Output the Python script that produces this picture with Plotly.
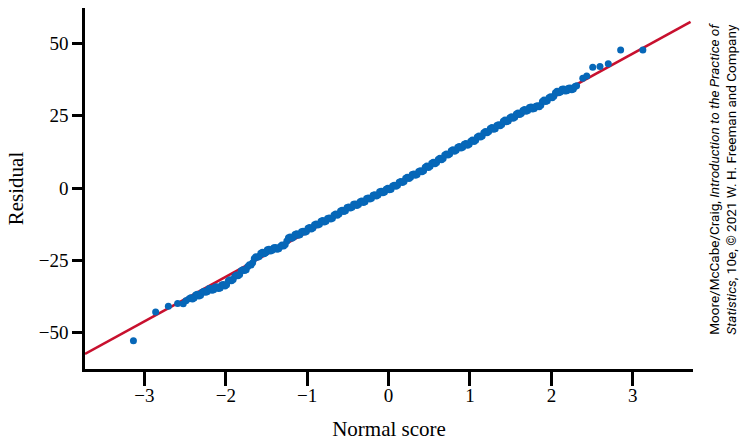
import plotly.graph_objects as go

# Normal scores (x) and residuals (y)
normal_score = [
    -3.135, -2.862, -2.706, -2.592, -2.523, -2.49,
    -2.45, -2.41, -2.37, -2.33, -2.29, -2.25, -2.21, -2.17, -2.13, -2.09,
    -2.05, -2.01, -1.97, -1.93, -1.89, -1.85, -1.81, -1.77, -1.73, -1.69,
    -1.65, -1.61, -1.57, -1.53, -1.49, -1.45, -1.41, -1.37, -1.33, -1.29,
    -1.25, -1.21, -1.17, -1.13, -1.09, -1.05, -1.01, -0.97, -0.93, -0.89,
    -0.85, -0.81, -0.77, -0.73, -0.69, -0.65, -0.61, -0.57, -0.53, -0.49,
    -0.45, -0.41, -0.37, -0.33, -0.29, -0.25, -0.21, -0.17, -0.13, -0.09,
    -0.05, -0.01, 0.03, 0.07, 0.11, 0.15, 0.19, 0.23, 0.27, 0.31,
    0.35, 0.39, 0.43, 0.47, 0.51, 0.55, 0.59, 0.63, 0.67, 0.71,
    0.75, 0.79, 0.83, 0.87, 0.91, 0.95, 0.99, 1.03, 1.07, 1.11,
    1.15, 1.19, 1.23, 1.27, 1.31, 1.35, 1.39, 1.43, 1.47, 1.51,
    1.55, 1.59, 1.63, 1.67, 1.71, 1.75, 1.79, 1.83, 1.87, 1.91,
    1.95, 1.99, 2.03, 2.07, 2.11, 2.15, 2.19, 2.23, 2.27, 2.31,
    2.386, 2.434, 2.508, 2.597, 2.699, 2.851, 3.124,
    # denser points inside the central band
    -2.43, -2.39, -2.35, -2.31, -2.27, -2.23, -2.19, -2.15, -2.11, -2.07,
    -2.03, -1.99, -1.95, -1.91, -1.87, -1.83, -1.79, -1.75, -1.71, -1.67,
    -1.63, -1.59, -1.55, -1.51, -1.47, -1.43, -1.39, -1.35, -1.31, -1.27,
    -1.23, -1.19, -1.15, -1.11, -1.07, -1.03, -0.99, -0.95, -0.91, -0.87,
    -0.83, -0.79, -0.75, -0.71, -0.67, -0.63, -0.59, -0.55, -0.51, -0.47,
    -0.43, -0.39, -0.35, -0.31, -0.27, -0.23, -0.19, -0.15, -0.11, -0.07,
    -0.03, 0.01, 0.05, 0.09, 0.13, 0.17, 0.21, 0.25, 0.29, 0.33,
    0.37, 0.41, 0.45, 0.49, 0.53, 0.57, 0.61, 0.65, 0.69, 0.73,
    0.77, 0.81, 0.85, 0.89, 0.93, 0.97, 1.01, 1.05, 1.09, 1.13,
    1.17, 1.21, 1.25, 1.29, 1.33, 1.37, 1.41, 1.45, 1.49, 1.53,
    1.57, 1.61, 1.65, 1.69, 1.73, 1.77, 1.81, 1.85, 1.89, 1.93,
    1.97, 2.01, 2.05, 2.09, 2.13, 2.17, 2.21, 2.25, 2.29,
]
residual = [
    -52.7, -42.8, -40.8, -39.9, -40.0, -38.9,
    -38.2, -38.3, -36.9, -37.3, -36.0, -36.0, -34.8, -35.3, -34.2, -34.7,
    -33.5, -33.8, -32.1, -32.0, -30.5, -30.3, -28.6, -28.5, -27.1, -26.6,
    -24.3, -23.9, -22.5, -22.7, -21.3, -21.7, -20.6, -21.1, -20.2, -20.0,
    -18.3, -16.9, -17.0, -15.8, -16.1, -14.9, -15.0, -13.6, -13.8, -12.4,
    -12.5, -11.2, -11.5, -10.3, -10.4, -9.0, -9.0, -7.7, -7.8, -6.5,
    -6.6, -5.5, -5.7, -4.5, -4.7, -3.4, -3.5, -2.3, -2.4, -1.1,
    -1.4, -0.1, -0.4, 1.0, 1.0, 2.3, 2.3, 3.7, 3.7, 4.9,
    4.7, 6.0, 6.0, 7.6, 7.5, 8.9, 8.8, 10.3, 10.2, 11.8,
    11.8, 13.2, 13.1, 14.4, 14.1, 15.4, 15.1, 16.6, 16.5, 18.0,
    18.0, 19.5, 19.5, 20.9, 20.5, 21.9, 22.0, 23.5, 23.2, 24.6,
    24.5, 25.9, 25.8, 27.1, 26.8, 28.0, 27.5, 28.4, 28.6, 30.4,
    30.2, 31.5, 31.7, 33.4, 33.2, 34.2, 33.6, 34.6, 34.2, 35.3,
    37.9, 38.7, 41.7, 42.0, 42.9, 47.7, 47.7,
    # denser points inside the central band
    -37.9, -38.0, -36.7, -37.0, -35.6, -35.8, -34.7, -35.1, -34.1, -34.5,
    -33.3, -33.4, -31.7, -31.6, -30.0, -29.9, -28.2, -28.2, -26.5, -25.8,
    -23.7, -23.6, -22.2, -22.4, -21.1, -21.5, -20.5, -21.0, -19.7, -19.5,
    -17.2, -17.3, -16.0, -16.3, -15.1, -15.3, -13.9, -14.1, -12.7, -12.8,
    -11.5, -11.7, -10.5, -10.7, -9.3, -9.4, -7.9, -8.1, -6.7, -6.9,
    -5.6, -6.0, -4.7, -5.0, -3.6, -3.8, -2.5, -2.7, -1.3, -1.6,
    -0.4, -0.6, 0.7, 0.6, 2.0, 1.9, 3.4, 3.3, 4.7, 4.4,
    5.7, 5.6, 7.2, 7.1, 8.6, 8.4, 9.9, 9.8, 11.4, 11.4,
    12.9, 12.7, 14.1, 13.8, 15.1, 14.8, 16.2, 16.1, 17.6, 17.6,
    19.1, 19.1, 20.6, 20.3, 21.6, 21.5, 23.1, 22.9, 24.3, 24.1,
    25.6, 25.4, 26.8, 26.5, 27.8, 27.3, 28.3, 28.1, 29.9, 29.9,
    31.2, 31.2, 32.9, 32.9, 34.1, 33.5, 34.5, 34.0, 35.1,
]

# Reference line endpoints
line_x = [-3.73, 3.71]
line_y = [-57.3, 57.4]

x_ticks = [-3, -2, -1, 0, 1, 2, 3]
y_ticks = [-50, -25, 0, 25, 50]

SERIF = "Liberation Serif, Times New Roman, serif"

fig = go.Figure()
fig.add_trace(go.Scatter(x=line_x, y=line_y, mode="lines",
                         line=dict(color="#c8102e", width=2.6),
                         hoverinfo="skip", showlegend=False))
fig.add_trace(go.Scatter(x=normal_score, y=residual, mode="markers",
                         marker=dict(color="#0667b8", size=7, line=dict(width=0)),
                         showlegend=False))

fig.update_layout(
    width=743, height=444,
    margin=dict(l=85, r=50, t=8, b=75),
    paper_bgcolor="white", plot_bgcolor="white",
    font=dict(family=SERIF, color="black", size=19),
    xaxis=dict(range=[-3.73, 3.74], tickvals=x_ticks, showgrid=False, zeroline=False,
               showline=True, linecolor="black", linewidth=2.5,
               ticks="outside", ticklen=14, tickwidth=2.5, tickcolor="black",
               ticklabelstandoff=-7,
               tickfont=dict(family=SERIF, size=19),
               title=dict(text="Normal score", font=dict(family=SERIF, size=21), standoff=17)),
    yaxis=dict(range=[-62.5, 62.2], tickvals=y_ticks, showgrid=False, zeroline=False,
               showline=True, linecolor="black", linewidth=2.5,
               ticks="outside", ticklen=10, tickwidth=2.5, tickcolor="black",
               tickfont=dict(family=SERIF, size=19),
               title=dict(text="Residual", font=dict(family=SERIF, size=21), standoff=10)),
    annotations=[dict(
        xref="paper", yref="paper", x=1.048, y=0.09,
        xanchor="center", yanchor="bottom", textangle=-90, showarrow=False, align="left",
        text="Moore/McCabe/Craig, <i>Introduction to the Practice of</i><br>"
             "<i>Statistics</i>, 10e, © 2021 W. H. Freeman and Company",
        font=dict(family="Roboto, sans-serif", size=13.5, color="black"),
    )],
)

fig.write_html("out.html")
